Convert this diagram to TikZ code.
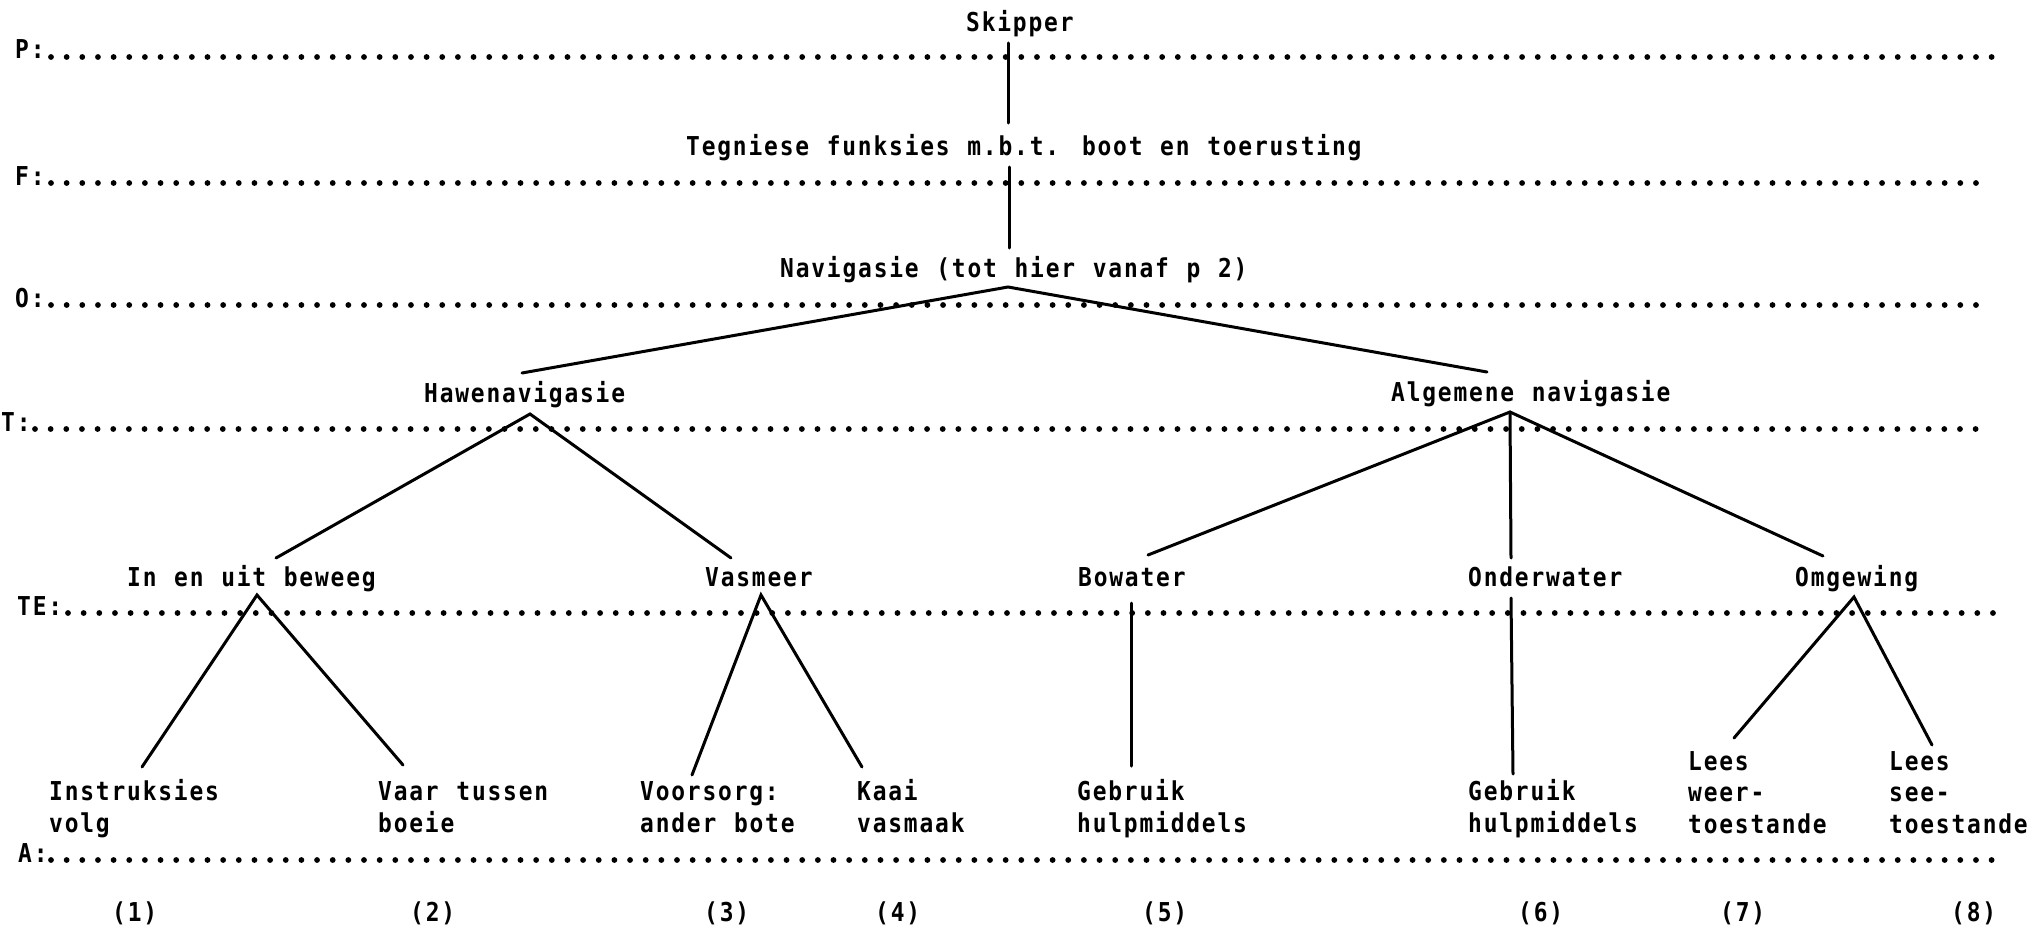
\documentclass[tikz,border=0pt]{standalone}
\usepackage{fontspec}
% condensed line-printer style monospace
\newfontfamily\typefont[FakeStretch=0.88,LetterSpace=7.0,WordSpace=1.133]{DejaVu Sans Mono Bold}
\begin{document}
\begin{tikzpicture}[x=1pt,y=-1pt,
  lbl/.style={anchor=base west, inner sep=0pt, align=left,
    font=\typefont\fontsize{26}{31.5}\selectfont},
  leader/.style={line width=5.8pt, line cap=round, dash pattern=on 0pt off 15.65pt},
  link/.style={line width=3pt, line cap=round}]
\useasboundingbox (0,0) rectangle (2035,934);

% level rows: name / label x / row y / first dot x / number of gaps
\foreach \nm/\lx/\ly/\sx/\cnt in {P/15/57/51/124, F/15/183/51/123, O/15/305/51/123,
    T/1/429/35/124, TE/17/613/68/123, A/18/860/51/124} {
  \node[lbl] (lev\nm) at (\lx,\ly+2) {\nm:};
  \coordinate (row\nm-s) at (\sx,\ly);
  \coordinate (row\nm-e) at (\sx+\cnt*15.65+0.2,\ly);
  \draw[leader] (row\nm-s) -- (row\nm-e);
}

% tree labels
\node[lbl] (skip) at (966,32)  {Skipper};
\node[lbl] (tegn) at (686,155) {Tegniese funksies m.b.t. boot en toerusting};
\node[lbl] (nav)  at (780,277) {Navigasie (tot hier vanaf p 2)};
\node[lbl] (hawe) at (424,402) {Hawenavigasie};
\node[lbl] (alg)  at (1391,401) {Algemene navigasie};
\node[lbl] (inen) at (127,586) {In en uit beweeg};
\node[lbl] (vasm) at (705,586) {Vasmeer};
\node[lbl] (bow)  at (1078,586) {Bowater};
\node[lbl] (ond)  at (1468,586) {Onderwater};
\node[lbl] (omg)  at (1795,586) {Omgewing};

% leaves (placed by the baseline of their last line)
\node[lbl] (l1) at (49,832)   {Instruksies\\volg};
\node[lbl] (l2) at (378,832)  {Vaar tussen\\boeie};
\node[lbl] (l3) at (640,832)  {Voorsorg:\\ander bote};
\node[lbl] (l4) at (857,832)  {Kaai\\vasmaak};
\node[lbl] (l5) at (1077,832) {Gebruik\\hulpmiddels};
\node[lbl] (l6) at (1468,832) {Gebruik\\hulpmiddels};
\node[lbl] (l7) at (1688,833) {Lees\\weer-\\toestande};
\node[lbl] (l8) at (1889,833) {Lees\\see-\\toestande};

% leaf numbers
\foreach \k/\x in {1/112, 2/410, 3/704, 4/875, 5/1142, 6/1518, 7/1720, 8/1951}
  \node[lbl] (num\k) at (\x,921) {(\k)};

% connector ends
\coordinate (skip-b) at (1008,43);
\coordinate (tegn-t) at (1008,123);
\coordinate (tegn-b) at (1009,167);
\coordinate (nav-t)  at (1009,248);
\coordinate (nav-b)  at (1008,287);
\coordinate (hawe-t) at (522,373);
\coordinate (alg-t)  at (1487,372);
\coordinate (hawe-b) at (530,414);
\coordinate (inen-t) at (276,558);
\coordinate (vasm-t) at (731,558);
\coordinate (alg-b)  at (1510,412);
\coordinate (bow-t)  at (1148,555);
\coordinate (ond-t)  at (1511,558);
\coordinate (omg-t)  at (1823,556);
\coordinate (inen-b) at (257,595);
\coordinate (l1-t)   at (142,767);
\coordinate (l2-t)   at (403,765);
\coordinate (vasm-b) at (761,595);
\coordinate (l3-t)   at (692,775);
\coordinate (l4-t)   at (862,767);
\coordinate (bow-b)  at (1131,603);
\coordinate (l5-t)   at (1131,766);
\coordinate (ond-b)  at (1511,598);
\coordinate (l6-t)   at (1513,774);
\coordinate (omg-b)  at (1854,597);
\coordinate (l7-t)   at (1734,738);
\coordinate (l8-t)   at (1932,745);

% connectors
\draw[link] (skip-b) -- (tegn-t);
\draw[link] (tegn-b) -- (nav-t);
\draw[link] (hawe-t) -- (nav-b) -- (alg-t);
\draw[link] (inen-t) -- (hawe-b) -- (vasm-t);
\draw[link] (bow-t) -- (alg-b) -- (omg-t);
\draw[link] (alg-b) -- (ond-t);
\draw[link] (l1-t) -- (inen-b) -- (l2-t);
\draw[link] (l3-t) -- (vasm-b) -- (l4-t);
\draw[link] (bow-b) -- (l5-t);
\draw[link] (ond-b) -- (l6-t);
\draw[link] (l7-t) -- (omg-b) -- (l8-t);
\end{tikzpicture}
\end{document}
